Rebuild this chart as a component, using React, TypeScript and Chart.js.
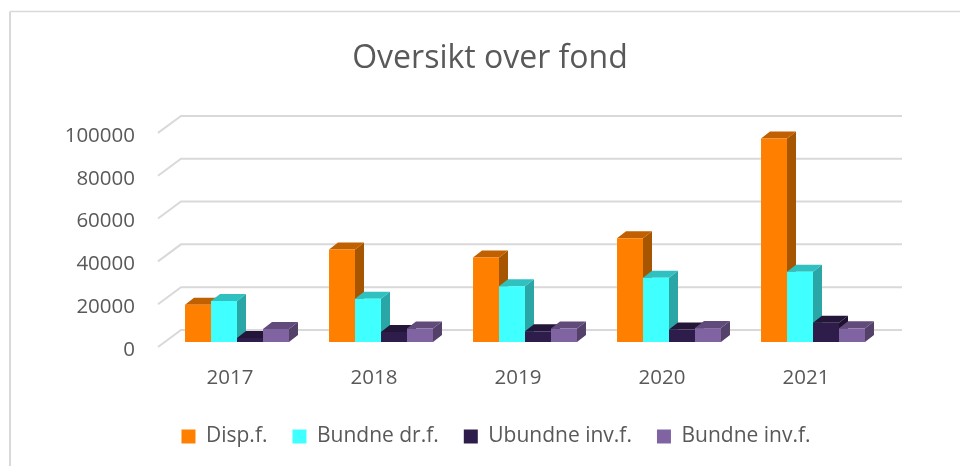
import React, { useEffect, useRef } from "react";
import { Chart, registerables } from "chart.js";

Chart.register(...registerables);

const categories = ["2017", "2018", "2019", "2020", "2021"];
const dispF = [17400, 43200, 39500, 48500, 95000];
const bundneDrF = [19200, 20200, 26000, 30000, 32800];
const ubundneInvF = [1900, 4700, 5000, 5800, 9000];
const bundneInvF = [6100, 6300, 6300, 6500, 6400];
const yTicks = [0, 20000, 40000, 60000, 80000, 100000];

const seriesNames = ["Disp.f.", "Bundne dr.f.", "Ubundne inv.f.", "Bundne inv.f."];
const frontColors = ["#ff8000", "#40ffff", "#2e1c4a", "#8064a2"];
const topColors = ["#c06000", "#30c0c0", "#231638", "#604b7a"];
const sideColors = ["#a65500", "#2aa6a6", "#1e1230", "#534169"];

const FONT = "'Open Sans', sans-serif";
const TEXT = "#595959";
const GRID = "#d9d9d9";

const barShift = { x: 7, y: -8 };
const depth = { x: 9, y: -7 };
const gridStartLift = -3;
const wallShift = { x: 23, y: -20 };
const wallRight = 902;
const legendShift = 6;

const decorations = {
  id: "decorations",
  beforeDraw(chart: any) {
    const { ctx, scales } = chart;
    ctx.save();
    ctx.strokeStyle = GRID;
    ctx.lineWidth = 2;
    ctx.beginPath();
    ctx.moveTo(10, 466);
    ctx.lineTo(10, 11.5);
    ctx.stroke();
    ctx.lineWidth = 1.4;
    ctx.beginPath();
    ctx.moveTo(10, 11.5);
    ctx.lineTo(960, 11.5);
    ctx.stroke();

    const left = chart.chartArea.left;
    ctx.lineWidth = 2;
    yTicks.forEach((v) => {
      const y = scales.y.getPixelForValue(v);
      ctx.beginPath();
      ctx.moveTo(left, y + gridStartLift);
      ctx.lineTo(left + wallShift.x, y + wallShift.y);
      ctx.lineTo(wallRight, y + wallShift.y);
      ctx.stroke();
    });
    ctx.restore();
    chart.legend.left += legendShift;
    chart.legend.right += legendShift;
  },
  beforeDatasetsDraw(chart: any) {
    const { ctx } = chart;
    ctx.save();
    ctx.translate(barShift.x, barShift.y);
    chart.data.datasets.forEach((_: any, di: number) => {
      chart.getDatasetMeta(di).data.forEach((bar: any) => {
        const { x, y, base, width } = bar.getProps(["x", "y", "base", "width"], true);
        const l = x - width / 2;
        const r = x + width / 2;
        ctx.fillStyle = sideColors[di];
        ctx.beginPath();
        ctx.moveTo(r, y);
        ctx.lineTo(r + depth.x, y + depth.y);
        ctx.lineTo(r + depth.x, base + depth.y);
        ctx.lineTo(r, base);
        ctx.closePath();
        ctx.fill();
        ctx.fillStyle = topColors[di];
        ctx.beginPath();
        ctx.moveTo(l, y);
        ctx.lineTo(l + depth.x, y + depth.y);
        ctx.lineTo(r + depth.x, y + depth.y);
        ctx.lineTo(r, y);
        ctx.closePath();
        ctx.fill();
      });
    });
  },
  afterDatasetsDraw(chart: any) {
    chart.ctx.restore();
  },
};

export default function App() {
  const ref = useRef<HTMLCanvasElement | null>(null);
  useEffect(() => {
    const values = [dispF, bundneDrF, ubundneInvF, bundneInvF];
    const chart = new Chart(ref.current as HTMLCanvasElement, {
      type: "bar",
      data: {
        labels: categories,
        datasets: values.map((data, i) => ({
          label: seriesNames[i],
          data,
          backgroundColor: frontColors[i],
          borderWidth: 0,
          categoryPercentage: 0.722,
          barPercentage: 1,
        })),
      },
      options: {
        animation: false,
        responsive: false,
        layout: { padding: { left: 20, right: 0, top: 0, bottom: 9 } },
        plugins: {
          tooltip: { enabled: false },
          title: {
            display: true,
            text: "Oversikt over fond",
            color: TEXT,
            font: { family: FONT, size: 32, weight: "normal" },
            padding: { top: 40, bottom: 57.5 },
          },
          legend: {
            position: "bottom",
            labels: {
              color: TEXT,
              font: { family: FONT, size: 21 },
              boxWidth: 14,
              boxHeight: 14,
              padding: 25,
            },
          },
        },
        scales: {
          x: {
            grid: { display: false },
            border: { display: false },
            ticks: { color: TEXT, font: { family: FONT, size: 20.5 }, padding: 8, maxRotation: 0 },
            afterFit(s: any) {
              s.height = 51;
            },
          },
          y: {
            min: 0,
            max: 100000,
            grid: { display: false },
            border: { display: false },
            ticks: {
              color: TEXT,
              font: { family: FONT, size: 20.5 },
              padding: 15,
              stepSize: 20000,
              callback: (v: number) => String(v),
            },
            afterFit(s: any) {
              s.width = 138;
            },
          },
          spacer: {
            position: "right",
            grid: { display: false },
            border: { display: false },
            ticks: { display: false },
            afterFit(s: any) {
              s.width = 82;
            },
          },
        },
      } as any,
      plugins: [decorations],
    });
    return () => chart.destroy();
  }, []);
  return (
    <div style={{ position: "fixed", left: 0, top: 0, width: 960, height: 466, background: "#fff" }}>
      <canvas ref={ref} width={960} height={466} style={{ display: "block" }} />
    </div>
  );
}
